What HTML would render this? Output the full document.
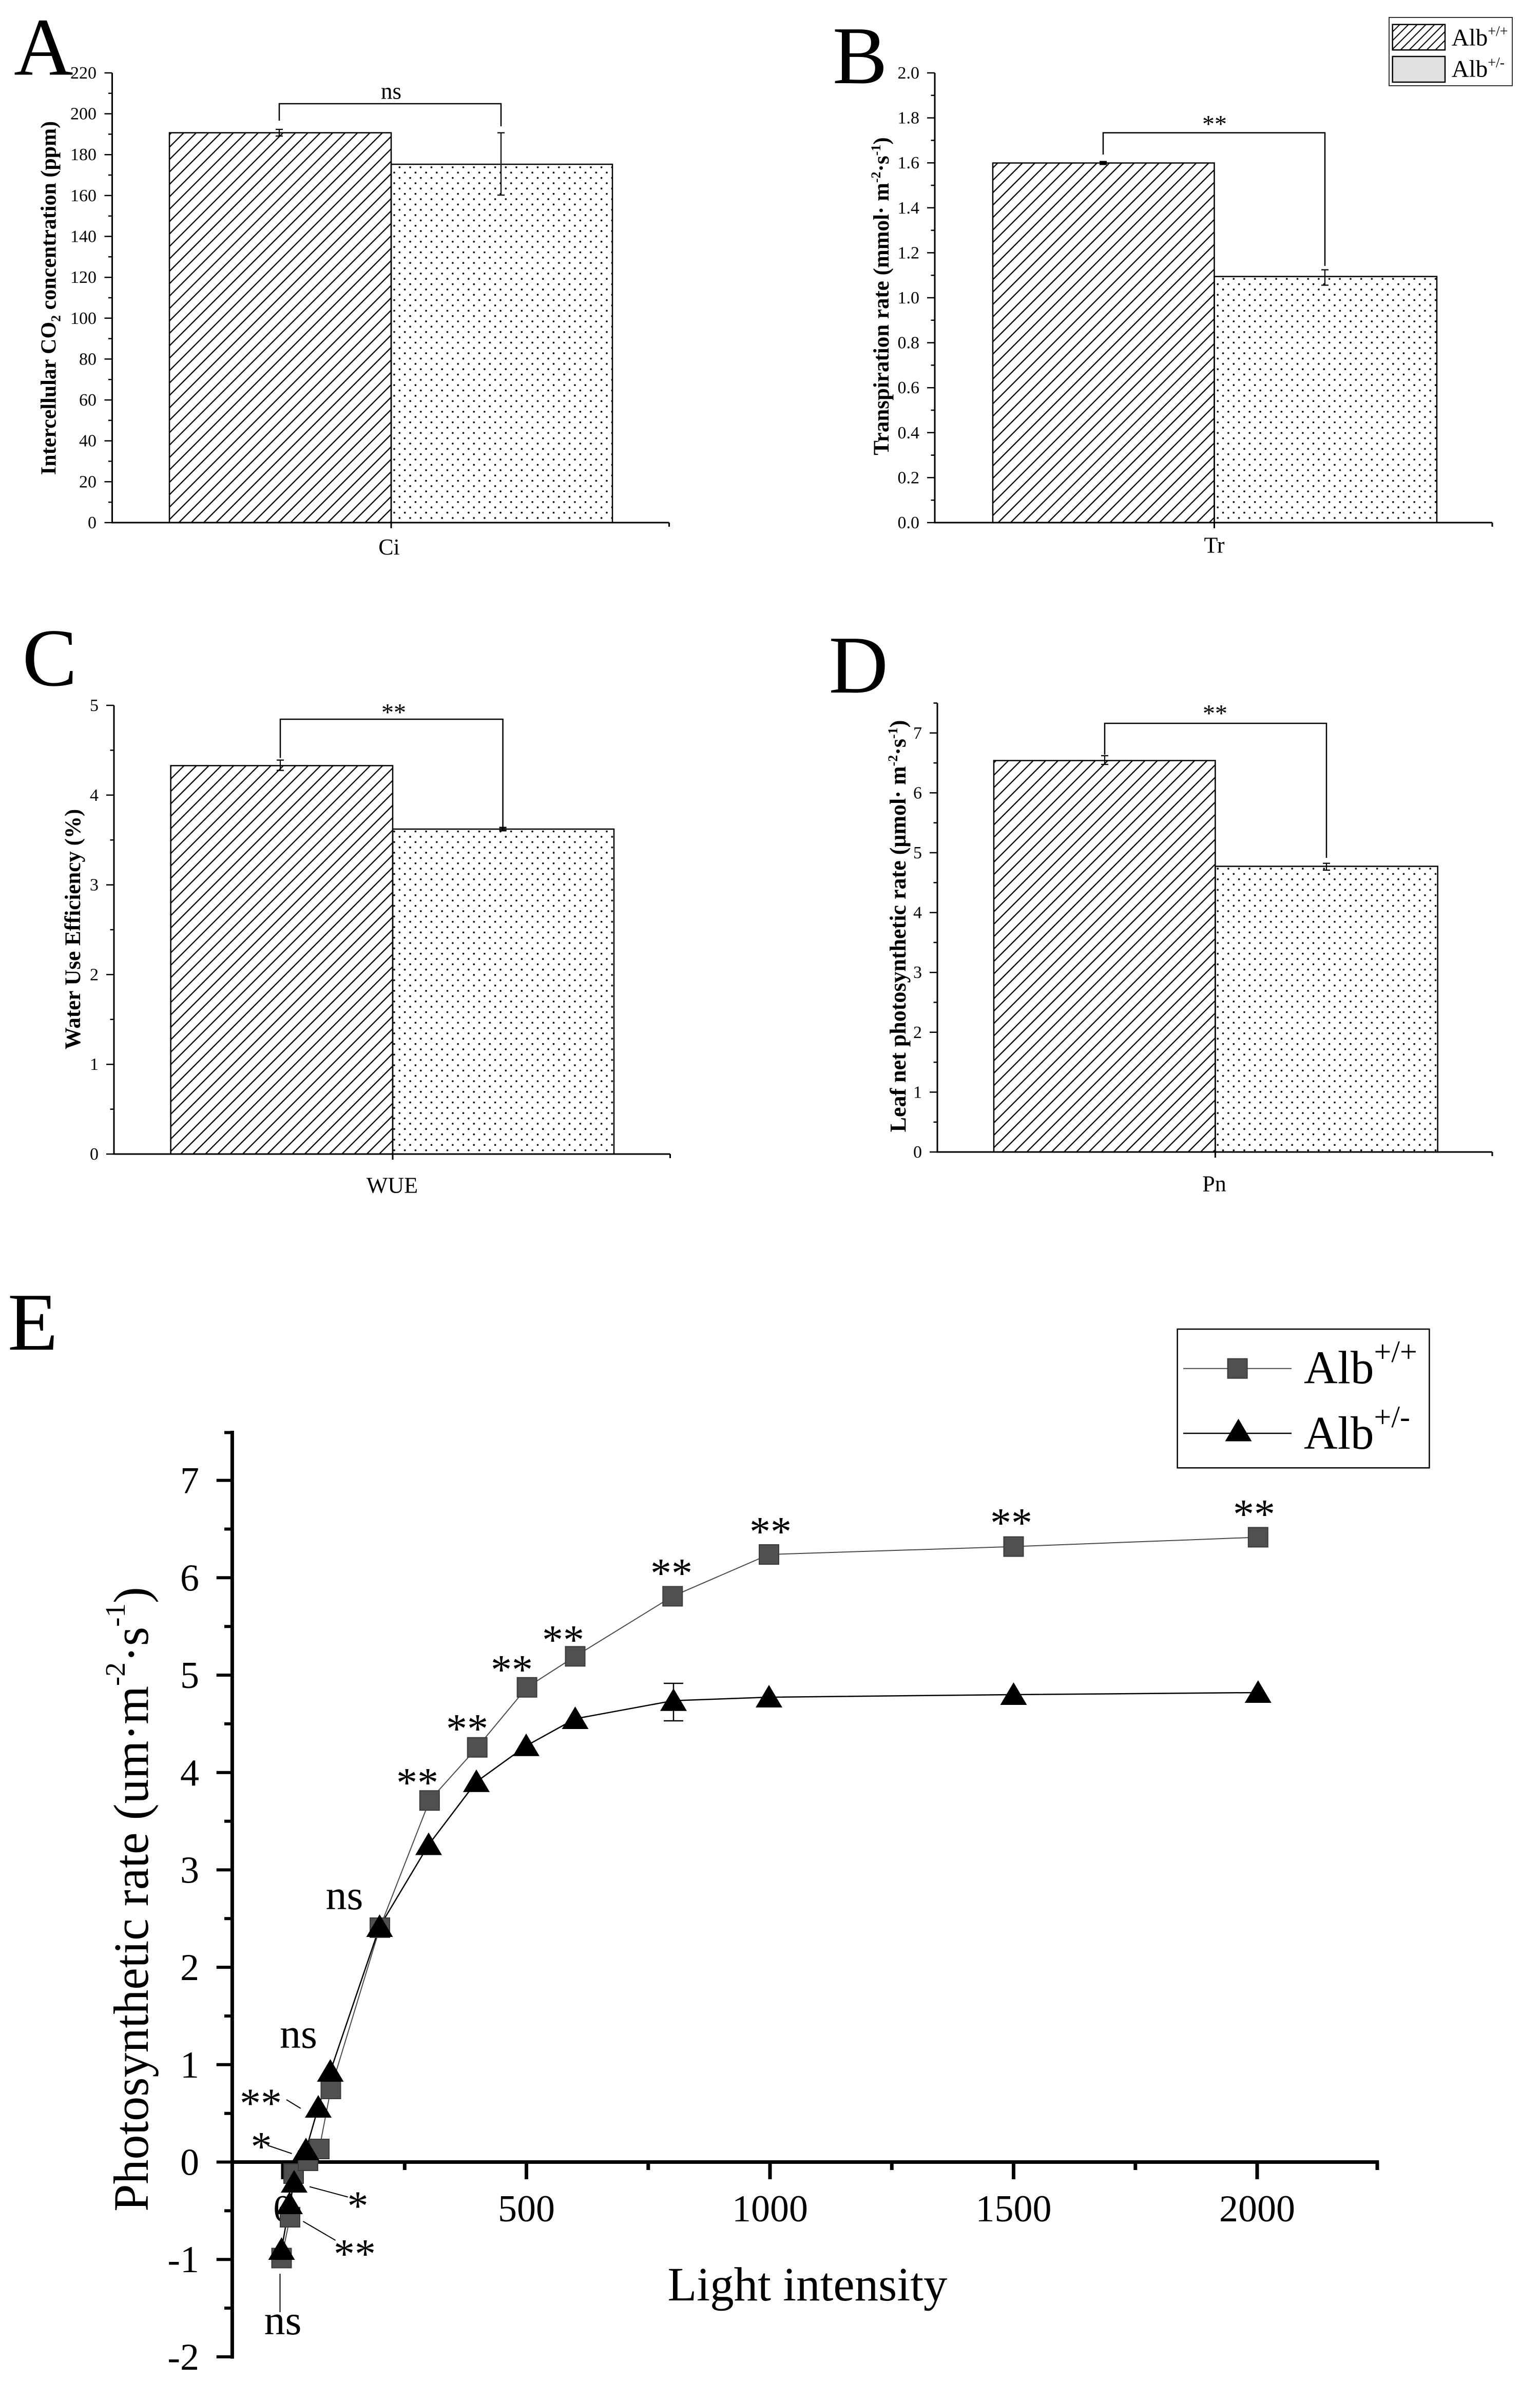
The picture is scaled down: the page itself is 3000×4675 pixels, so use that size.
<!DOCTYPE html>
<html>
<head>
<meta charset="utf-8">
<style>
html,body{margin:0;padding:0;background:#fff;width:3000px;height:4675px;overflow:hidden;}
svg{display:block;}
text{font-family:"Liberation Serif","Times New Roman",serif;fill:#000;}
</style>
</head>
<body>
<svg xmlns="http://www.w3.org/2000/svg" width="3000" height="4675" viewBox="0 0 3000 4675">
<defs>
  <pattern id="hatch" patternUnits="userSpaceOnUse" width="17.1" height="17.1" patternTransform="rotate(45)">
    <line x1="8.55" y1="-1" x2="8.55" y2="18.1" stroke="#000" stroke-width="2.3"/>
  </pattern>
  <pattern id="hatch2" patternUnits="userSpaceOnUse" width="12" height="12" patternTransform="rotate(45)">
    <line x1="6" y1="-1" x2="6" y2="13" stroke="#000" stroke-width="2"/>
  </pattern>
  <pattern id="dots" patternUnits="userSpaceOnUse" x="763" y="0" width="20.7" height="20.7">
    <circle cx="5" cy="5" r="1.8" fill="#000"/>
    <circle cx="15.35" cy="15.35" r="1.8" fill="#000"/>
  </pattern>
</defs>
<rect x="0" y="0" width="3000" height="4675" fill="#fff"/>

<!-- ================= Panel A ================= -->
<text x="27" y="145.5" font-size="160">A</text>
<rect x="330" y="258.6" width="432" height="759.4" fill="url(#hatch)" stroke="#000" stroke-width="2.5"/>
<rect x="762" y="320" width="431" height="698" fill="url(#dots)" stroke="#000" stroke-width="2.5"/>
<g stroke="#000" fill="none">
  <path d="M218.5 142V1018H1303.5M762 1018V1029M1303.5 1018V1026" stroke-width="3"/>
  <path d="M203.5 1018H218.5M203.5 938.4H218.5M203.5 858.7H218.5M203.5 779.1H218.5M203.5 699.4H218.5M203.5 619.8H218.5M203.5 540.2H218.5M203.5 460.5H218.5M203.5 380.9H218.5M203.5 301.2H218.5M203.5 221.6H218.5M203.5 142H218.5" stroke-width="2.5"/>
  <path d="M211 978.2H218.5M211 898.5H218.5M211 818.9H218.5M211 739.3H218.5M211 659.6H218.5M211 580H218.5M211 500.3H218.5M211 420.7H218.5M211 341H218.5M211 261.4H218.5M211 181.8H218.5" stroke-width="2.5"/>
  <path d="M544 252V265M537 252H551M537 265H551" stroke-width="2.2"/>
  <path d="M976 258.6V380M969 258.6H983M969 380H983" stroke-width="2.2"/>
  <path d="M544 235V202H976V246" stroke-width="2.5"/>
</g>
<g font-size="34" text-anchor="end">
  <text x="188" y="1029">0</text><text x="188" y="949.4">20</text><text x="188" y="869.7">40</text>
  <text x="188" y="790.1">60</text><text x="188" y="710.4">80</text><text x="188" y="630.8">100</text>
  <text x="188" y="551.2">120</text><text x="188" y="471.5">140</text><text x="188" y="391.9">160</text>
  <text x="188" y="312.2">180</text><text x="188" y="232.6">200</text><text x="188" y="153">220</text>
</g>
<text x="762" y="192.5" font-size="45" text-anchor="middle">ns</text>
<text x="758" y="1080" font-size="44" text-anchor="middle">Ci</text>
<text transform="translate(108.5,580.5) rotate(-90)" font-size="42" font-weight="bold" text-anchor="middle">Intercellular CO<tspan font-size="26" dy="9">2</tspan><tspan dy="-9"> concentration (ppm)</tspan></text>

<!-- ================= Panel B ================= -->
<text x="1622" y="162" font-size="160">B</text>
<rect x="1934" y="317.5" width="431.5" height="700.5" fill="url(#hatch)" stroke="#000" stroke-width="2.5"/>
<rect x="2365.5" y="538.6" width="433.5" height="479.4" fill="url(#dots)" stroke="#000" stroke-width="2.5"/>
<g stroke="#000" fill="none">
  <path d="M1821 142V1018H2907M2365.5 1018V1029M2907 1018V1026" stroke-width="3"/>
  <path d="M1806 1018H1821M1806 930.4H1821M1806 842.8H1821M1806 755.2H1821M1806 667.6H1821M1806 580H1821M1806 492.4H1821M1806 404.8H1821M1806 317.2H1821M1806 229.6H1821M1806 142H1821" stroke-width="2.5"/>
  <path d="M1813.5 974.2H1821M1813.5 886.6H1821M1813.5 799H1821M1813.5 711.4H1821M1813.5 623.8H1821M1813.5 536.2H1821M1813.5 448.6H1821M1813.5 361H1821M1813.5 273.4H1821M1813.5 185.8H1821" stroke-width="2.5"/>
  <path d="M2149 315V320M2142 315H2156M2142 320H2156" stroke-width="3"/>
  <path d="M2581 525.5V555.5M2574 525.5H2588M2574 555.5H2588" stroke-width="2.2"/>
  <path d="M2149 301V258.6H2581V518" stroke-width="2.5"/>
</g>
<g font-size="34" text-anchor="end">
  <text x="1791" y="1029">0.0</text><text x="1791" y="941.4">0.2</text><text x="1791" y="853.8">0.4</text>
  <text x="1791" y="766.2">0.6</text><text x="1791" y="678.6">0.8</text><text x="1791" y="591">1.0</text>
  <text x="1791" y="503.4">1.2</text><text x="1791" y="415.8">1.4</text><text x="1791" y="328.2">1.6</text>
  <text x="1791" y="240.6">1.8</text><text x="1791" y="153">2.0</text>
</g>
<text x="2366" y="257.6" font-size="48" text-anchor="middle">**</text>
<text x="2365.5" y="1076.5" font-size="44" text-anchor="middle">Tr</text>
<text transform="translate(1731,577) rotate(-90)" font-size="43" font-weight="bold" text-anchor="middle">Transpiration rate (mmol· m<tspan font-size="26" dy="-16">-2</tspan><tspan dy="16">·s</tspan><tspan font-size="26" dy="-16">-1</tspan><tspan dy="16">)</tspan></text>
<!-- legend B -->
<rect x="2706" y="34" width="240" height="133" fill="#fff" stroke="#333" stroke-width="2"/>
<rect x="2712.7" y="47.7" width="102.3" height="49.6" fill="url(#hatch2)" stroke="#000" stroke-width="2.5"/>
<rect x="2712.7" y="110" width="102.3" height="50" fill="#e0e0e0" stroke="#000" stroke-width="2.5"/>
<text x="2827.7" y="88.3" font-size="47">Alb<tspan font-size="28" dy="-18.3">+/+</tspan></text>
<text x="2827.7" y="149.3" font-size="47">Alb<tspan font-size="28" dy="-18.3">+/-</tspan></text>

<!-- ================= Panel C ================= -->
<text x="43.5" y="1335" font-size="160">C</text>
<rect x="332.6" y="1491.4" width="432.4" height="756.6" fill="url(#hatch)" stroke="#000" stroke-width="2.5"/>
<rect x="765" y="1615" width="431" height="633" fill="url(#dots)" stroke="#000" stroke-width="2.5"/>
<g stroke="#000" fill="none">
  <path d="M222 1374V2248H1305.5M765 2248V2259M1305.5 2248V2256" stroke-width="3"/>
  <path d="M207 2248H222M207 2073.2H222M207 1898.4H222M207 1723.6H222M207 1548.8H222M207 1374H222" stroke-width="2.5"/>
  <path d="M214.5 2160.6H222M214.5 1985.8H222M214.5 1811H222M214.5 1636.2H222M214.5 1461.4H222" stroke-width="2.5"/>
  <path d="M546 1480.6V1500.6M539 1480.6H553M539 1500.6H553" stroke-width="2.2"/>
  <path d="M979.6 1612V1618M972.6 1612H986.6M972.6 1618H986.6" stroke-width="3"/>
  <path d="M546 1476.5V1401H979.6V1612" stroke-width="2.5"/>
</g>
<g font-size="34" text-anchor="end">
  <text x="192" y="2259">0</text><text x="192" y="2084.2">1</text><text x="192" y="1909.4">2</text>
  <text x="192" y="1734.6">3</text><text x="192" y="1559.8">4</text><text x="192" y="1385">5</text>
</g>
<text x="767" y="1403.6" font-size="48" text-anchor="middle">**</text>
<text x="764" y="2323.5" font-size="44" text-anchor="middle">WUE</text>
<text transform="translate(156,1810) rotate(-90)" font-size="43" font-weight="bold" text-anchor="middle">Water Use Efficiency (%)</text>

<!-- ================= Panel D ================= -->
<text x="1614.5" y="1349" font-size="160">D</text>
<rect x="1936" y="1481.5" width="431.4" height="762.5" fill="url(#hatch)" stroke="#000" stroke-width="2.5"/>
<rect x="2367.4" y="1687.5" width="433.3" height="556.5" fill="url(#dots)" stroke="#000" stroke-width="2.5"/>
<g stroke="#000" fill="none">
  <path d="M1826 1369.5V2244H2907M2367.4 2244V2255M2907 2244V2252" stroke-width="3"/>
  <path d="M1811 2244H1826M1811 2127.4H1826M1811 2010.8H1826M1811 1894.2H1826M1811 1777.6H1826M1811 1661H1826M1811 1544.4H1826M1811 1427.8H1826" stroke-width="2.5"/>
  <path d="M1818.5 2185.7H1826M1818.5 2069.1H1826M1818.5 1952.5H1826M1818.5 1835.9H1826M1818.5 1719.3H1826M1818.5 1602.7H1826M1818.5 1486.1H1826M1818.5 1369.5H1826" stroke-width="2.5"/>
  <path d="M2152 1472V1489M2145 1472H2159M2145 1489H2159" stroke-width="2.2"/>
  <path d="M2584 1681.6V1695M2577 1681.6H2591M2577 1695H2591" stroke-width="2.2"/>
  <path d="M2152 1470V1409H2584V1671" stroke-width="2.5"/>
</g>
<g font-size="34" text-anchor="end">
  <text x="1796" y="2255">0</text><text x="1796" y="2138.4">1</text><text x="1796" y="2021.8">2</text>
  <text x="1796" y="1905.2">3</text><text x="1796" y="1788.6">4</text><text x="1796" y="1672">5</text>
  <text x="1796" y="1555.4">6</text><text x="1796" y="1438.8">7</text>
</g>
<text x="2367" y="1405.6" font-size="48" text-anchor="middle">**</text>
<text x="2365.5" y="2320.5" font-size="44" text-anchor="middle">Pn</text>
<text transform="translate(1764,1804) rotate(-90)" font-size="44" font-weight="bold" text-anchor="middle">Leaf net photosynthetic rate (μmol· m<tspan font-size="26" dy="-16">-2</tspan><tspan dy="16">·s</tspan><tspan font-size="26" dy="-16">-1</tspan><tspan dy="16">)</tspan></text>

<!-- ================= Panel E ================= -->
<text x="15" y="2629" font-size="160">E</text>
<g stroke="#000" fill="none">
  <path d="M452.4 2787V4594.5" stroke-width="7"/>
  <path d="M449 4211.5H2686.3" stroke-width="7"/>
  <path d="M421.7 4590.9H452M421.7 4401.2H452M421.7 4211.5H452M421.7 4021.8H452M421.7 3832.1H452M421.7 3642.4H452M421.7 3452.7H452M421.7 3263H452M421.7 3073.3H452M421.7 2883.6H452" stroke-width="6"/>
  <path d="M437 4496H452M437 4306.4H452M437 4116.7H452M437 3927H452M437 3737.3H452M437 3547.6H452M437 3357.9H452M437 3168.2H452M437 2978.5H452M437 2790.5H452" stroke-width="6"/>
  <path d="M551 4211.5V4245M1025.5 4211.5V4245M1500 4211.5V4245M1974.5 4211.5V4245M2449 4211.5V4245" stroke-width="7"/>
  <path d="M788.3 4211.5V4227M1262.8 4211.5V4227M1737.3 4211.5V4227M2211.8 4211.5V4227M2683 4211.5V4227" stroke-width="7"/>
</g>
<g font-size="74" text-anchor="end">
  <text x="388" y="4616">-2</text><text x="388" y="4426">-1</text><text x="388" y="4236.5">0</text>
  <text x="388" y="4047">1</text><text x="388" y="3857">2</text><text x="388" y="3667.5">3</text>
  <text x="388" y="3478">4</text><text x="388" y="3288">5</text><text x="388" y="3098.5">6</text>
  <text x="388" y="2908.5">7</text>
</g>
<g font-size="74" text-anchor="middle">
  <text x="551" y="4327">0</text><text x="1025.5" y="4327">500</text><text x="1500" y="4327">1000</text>
  <text x="1974.5" y="4327">1500</text><text x="2449" y="4327">2000</text>
</g>
<text x="1573" y="4481" font-size="93" text-anchor="middle">Light intensity</text>
<text transform="translate(288,3699.5) rotate(-90)" font-size="96" text-anchor="middle">Photosynthetic rate (um·m<tspan font-size="55" dy="-45">-2</tspan><tspan dy="45">·s</tspan><tspan font-size="55" dy="-45">-1</tspan><tspan dy="45">)</tspan></text>

<!-- series lines -->
<polyline fill="none" stroke="#4a4a4a" stroke-width="2" points="548.5,4398.5 565,4319 572,4234 600,4209 622,4186 644.5,4069 740,3755 836.8,3507.2 929.7,3403.7 1026.6,3286.8 1120.5,3226.4 1310.3,3109.4 1498,3028 1974.5,3012.6 2450.8,2994.4"/>
<polyline fill="none" stroke="#000" stroke-width="2.5" points="548.5,4382 564,4293 573,4251 596,4188 620,4105 643.5,4035 739.5,3753 835,3593.5 928,3470.8 1025,3400.8 1120.5,3348 1312,3312.7 1498,3306 1974.5,3301 2450.8,3297"/>
<!-- error bar at 800 -->
<path d="M1312 3279V3352M1293 3279H1331M1293 3352H1331" stroke="#000" stroke-width="2.5" fill="none"/>
<!-- squares -->
<g fill="#505050" stroke="#3a3a3a" stroke-width="2">
  <rect x="529.5" y="4379.5" width="38" height="38"/>
  <rect x="546" y="4300" width="38" height="38"/>
  <rect x="553" y="4215" width="38" height="38"/>
  <rect x="581" y="4190" width="38" height="38"/>
  <rect x="603" y="4167" width="38" height="38"/>
  <rect x="625.5" y="4050" width="38" height="38"/>
  <rect x="721" y="3736" width="38" height="38"/>
  <rect x="817.8" y="3488.2" width="38" height="38"/>
  <rect x="910.7" y="3384.7" width="38" height="38"/>
  <rect x="1007.6" y="3267.8" width="38" height="38"/>
  <rect x="1101.5" y="3207.4" width="38" height="38"/>
  <rect x="1291.3" y="3090.4" width="38" height="38"/>
  <rect x="1479" y="3009" width="38" height="38"/>
  <rect x="1955.5" y="2993.6" width="38" height="38"/>
  <rect x="2431.8" y="2975.4" width="38" height="38"/>
</g>
<!-- triangles -->
<g fill="#000">
  <polygon points="548.5,4358 522.5,4402 574.5,4402"/>
  <polygon points="564,4269 538,4313 590,4313"/>
  <polygon points="573,4227 547,4271 599,4271"/>
  <polygon points="596,4164 570,4208 622,4208"/>
  <polygon points="620,4081 594,4125 646,4125"/>
  <polygon points="643.5,4011 617.5,4055 669.5,4055"/>
  <polygon points="739.5,3729 713.5,3773 765.5,3773"/>
  <polygon points="835,3569.5 809,3613.5 861,3613.5"/>
  <polygon points="928,3446.8 902,3490.8 954,3490.8"/>
  <polygon points="1025,3376.8 999,3420.8 1051,3420.8"/>
  <polygon points="1120.5,3324 1094.5,3368 1146.5,3368"/>
  <polygon points="1312,3288.7 1286,3332.7 1338,3332.7"/>
  <polygon points="1498,3282 1472,3326 1524,3326"/>
  <polygon points="1974.5,3277 1948.5,3321 2000.5,3321"/>
  <polygon points="2450.8,3273 2424.8,3317 2476.8,3317"/>
</g>
<!-- significance annotations -->
<g font-size="82" text-anchor="middle">
  <text x="813" y="3499.5">**</text>
  <text x="910" y="3394.5">**</text>
  <text x="997" y="3279.5">**</text>
  <text x="1097" y="3221.5">**</text>
  <text x="1308" y="3091.5">**</text>
  <text x="1501" y="3010.5">**</text>
  <text x="1970" y="2993.5">**</text>
  <text x="2443" y="2976.5">**</text>
  <text x="671" y="3719">ns</text>
  <text x="581.5" y="3989">ns</text>
  <text x="508" y="4124">**</text>
  <text x="509" y="4208.5">*</text>
  <text x="697" y="4324">*</text>
  <text x="691" y="4417.5">**</text>
  <text x="551" y="4547">ns</text>
</g>
<g stroke="#000" stroke-width="2" fill="none">
  <path d="M558 4090L585.8 4107"/>
  <path d="M521.4 4179L568.5 4195"/>
  <path d="M603 4259.5L677.8 4279.6"/>
  <path d="M590.4 4327L653.6 4364"/>
  <path d="M545.5 4429V4504"/>
</g>
<!-- legend E -->
<rect x="2293.6" y="2589" width="490.8" height="270.3" fill="#fff" stroke="#000" stroke-width="2.5"/>
<path d="M2305 2665.7H2516" stroke="#4a4a4a" stroke-width="2"/>
<rect x="2391.6" y="2646.7" width="38" height="38" fill="#505050" stroke="#3a3a3a" stroke-width="2"/>
<path d="M2305 2792H2516" stroke="#000" stroke-width="2.5"/>
<polygon points="2412.5,2763.5 2386.5,2807.5 2438.5,2807.5" fill="#000"/>
<text x="2540" y="2694.4" font-size="91">Alb<tspan font-size="60" dy="-41.4">+/+</tspan></text>
<text x="2540" y="2822" font-size="91">Alb<tspan font-size="60" dy="-42">+/-</tspan></text>
</svg>
</body>
</html>
